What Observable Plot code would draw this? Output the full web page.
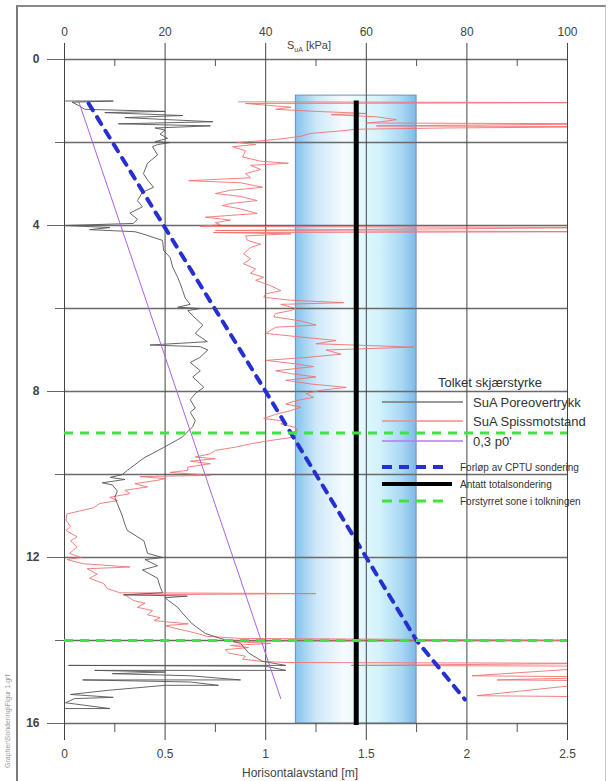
<!DOCTYPE html>
<html><head><meta charset="utf-8">
<script src="https://cdn.jsdelivr.net/npm/d3@7"></script>
<script src="https://cdn.jsdelivr.net/npm/@observablehq/plot@0.6"></script>
<style>
html,body{margin:0;padding:0;background:#fff;}
#wrap{position:relative;width:613px;height:781px;overflow:hidden;font-family:"Liberation Sans",Arial,sans-serif;}
#frame{position:absolute;left:16px;top:5px;width:587px;height:800px;border-left:2px solid #7a7a7a;border-top:2px solid #8a8a8a;border-right:1px solid #c8c8c8;}
#chart{position:absolute;left:0;top:0;}
#note{position:absolute;left:4px;top:668px;height:100px;writing-mode:vertical-rl;transform:rotate(180deg);font-size:7px;line-height:8px;color:#999;white-space:nowrap;}
</style></head>
<body><div id="wrap"><div id="frame"></div><div id="chart"></div><div id="note">Grapher\Sondering\Figur 1.grf</div></div>
<script>
// ---- axis definitions ----
const kpaTicks = [0, 20, 40, 60, 80, 100];
const kpaMinor = [10, 30, 50, 70, 90];
const depthLabels = [0, 4, 8, 12, 16];
const depthMinor = [2, 6, 10, 14];
const depthGrid = [0, 2, 4, 6, 8, 10, 12, 14, 16];
const kpaPerMeter = 40; // 2.5 m <-> 100 kPa on the shared horizontal axis

// ---- SuA Poreovertrykk: [depth m, kPa] ----
const grayDepth = [1.0,1.0,1.03,1.12,1.2,1.25,1.28,1.35,1.4,1.5,1.55,1.6,1.65,1.7,1.8,1.9,1.98,2.0,2.05,2.1,2.3,2.5,2.75,2.9,3.08,3.2,3.4,3.55,3.7,3.85,3.95,4.0,4.05,4.1,4.15,4.2,4.36,4.6,4.77,5.0,5.25,5.4,5.57,5.75,5.9,5.97,6.0,6.05,6.2,6.4,6.6,6.8,6.88,6.92,7.0,7.18,7.3,7.5,7.65,7.9,8.05,8.2,8.4,8.5,8.7,8.85,9.1,9.35,9.6,9.9,10.0,10.07,10.12,10.2,10.25,10.4,10.55,10.7,11.0,11.2,11.35,11.6,11.9,12.0,12.05,12.2,12.3,12.5,12.7,12.85,12.9,12.93,12.97,13.04,13.2,13.35,13.6,13.83,13.95,14.07,14.3,14.5,14.6,14.6,14.62,14.72,14.72,14.76,14.8,14.85,14.95,14.95,15.0,15.08,15.08,15.2,15.3,15.37,15.4,15.5,15.64,15.64];
const grayKpa   = [0.2,9.7,1.5,3.0,4.0,20,8,23.5,12,29.5,10.7,29,18,20,19,20.5,18,21,18.5,17.5,18.5,16.5,15.7,16.5,17.7,15.5,14.5,15.5,13,14.5,13.7,0.3,9,5,14,15.5,19.5,19.7,21,21.5,22.5,23,23.5,24,25,22.5,27,24.5,25.7,27.5,26,28.4,17,27,28.5,26.9,25,27,25.5,27.7,26,25,26,25,26,25.5,23.4,19.7,15.8,12.5,11.5,9.1,12,7.5,9.5,10.5,10,10.5,11.5,12,12.5,15.8,16.5,19.5,16,18.5,15.5,18.5,19,19.5,11.7,24.4,20,20.7,22.5,23.5,25.4,28,31,35,36.6,39.3,44,0.8,40,44,6,20,9.5,25,35,3.6,25,30.6,20,8.7,1.2,9.7,2,0.2,9,0.2];

// ---- SuA Spissmotstand: [depth m, kPa] (values past 100 run off the frame) ----
const redDepth = [1.02,1.04,1.06,1.1,1.15,1.2,1.25,1.3,1.33,1.38,1.45,1.5,1.53,1.55,1.6,1.62,1.65,1.68,1.72,1.78,1.85,1.9,1.95,2.0,2.05,2.1,2.2,2.35,2.45,2.5,2.55,2.65,2.75,2.85,2.92,2.97,3.08,3.15,3.23,3.3,3.4,3.47,3.52,3.6,3.71,3.8,3.87,3.93,3.98,4.02,4.05,4.12,4.15,4.17,4.2,4.25,4.36,4.45,4.53,4.68,4.8,4.92,5.05,5.15,5.25,5.32,5.45,5.57,5.65,5.73,5.8,5.86,5.9,6.0,6.05,6.12,6.2,6.3,6.4,6.45,6.6,6.7,6.77,6.85,6.93,7.0,7.1,7.18,7.25,7.32,7.4,7.5,7.57,7.65,7.73,7.82,7.9,7.97,8.05,8.14,8.22,8.3,8.38,8.46,8.55,8.65,8.72,8.78,8.87,8.94,9.0,9.1,9.18,9.26,9.34,9.42,9.5,9.58,9.62,9.68,9.74,9.82,9.9,9.95,10.02,10.05,10.1,10.14,10.22,10.3,10.38,10.46,10.55,10.63,10.7,10.8,10.88,10.95,11.1,11.25,11.35,11.5,11.6,11.75,11.9,12.0,12.05,12.15,12.23,12.27,12.4,12.5,12.63,12.75,12.85,12.87,12.9,13.04,13.1,13.2,13.28,13.38,13.45,13.52,13.6,13.64,13.7,13.76,13.82,13.9,13.95,14.0,14.02,14.07,14.12,14.17,14.22,14.3,14.38,14.45,14.5,14.53,14.55,14.6,14.62,14.85,14.88,14.95,14.97,15.33,15.36];
const redKpa   = [34.6,110,36,40,45,42,50,60,53,62,66,63,60,110,62,110,76,58,55,49,47,44,40,34.4,38,33.4,36,35.4,39,44.5,37,39,36,37,24.7,35,39.4,33,30,35,38.3,33,31.4,35,38.3,28,33,30,31,27,110,30,110,29.6,45,36,36.4,39,37,35.6,37,35.6,38,37,39.6,38,41,43,40,39.6,45,55.5,43,46,45,42,41.6,47,50,42,40,48,54,50,69.5,52,55,48,40,45,49.5,42,45,50,44,49,56,51,48,49.5,46,44,47,45,42,39.6,44,43,46,46.3,45,45.6,41,37,34,30,29,26,30,25,29,24.5,24.5,21,29,15,20,18.5,14,16.5,12,13,9,10.5,7,5.8,3,0.5,0.3,1.2,0.3,2.5,1.2,2.5,1,3.3,0.5,3.7,13,4.5,6.5,5,7.8,8.5,11,50,12,13.8,16,14.5,17.5,16.5,19,17.8,24.6,20,21.8,24,26,28.4,35,110,32,41,33,36.6,32,32.6,36,35.4,39,44,110,57,110,81,110,86,110,82,110];

// ---- 0,3 p0' : [depth m, kPa] ----
const p0Depth = [1.0, 15.4];
const p0Kpa = [2.8, 43];

// ---- CPTU sounding path: [depth m, horizontal distance m] ----
const cptuDepth = [1.06, 8.0, 11.6, 14.0, 15.42];
const cptuDist  = [0.12, 1.0, 1.45, 1.75, 1.99];

// ---- assumed total sounding & interpreted zone (m) ----
const totalSonderingDist = [1.45];
const totalSonderingDepth = [1.0, 16.05];
const zoneDist = [1.15, 1.75];
const zoneDepth = [0.87, 16];
const disturbedDepths = [9.0, 14.0];

const gray = grayDepth.map((d, i) => ({d, v: grayKpa[i]}));
const red = redDepth.map((d, i) => ({d, v: redKpa[i]}));
const p0 = p0Depth.map((d, i) => ({d, v: p0Kpa[i]}));
const cptu = cptuDepth.map((d, i) => ({d, m: cptuDist[i]}));
const zone = [{x1: zoneDist[0], x2: zoneDist[1], y1: zoneDepth[0], y2: zoneDepth[1]}];

const font = "Liberation Sans, Arial, sans-serif";

const plot = Plot.plot({
  width: 613, height: 781,
  marginTop: 59, marginBottom: 58, marginLeft: 64, marginRight: 46,
  style: {fontFamily: font, fontSize: "12px", color: "#333", background: "transparent", overflow: "visible"},
  x: {domain: [0, 100]},
  y: {domain: [0, 16], reverse: true},
  marks: [
    Plot.rect(zone, {x1: d => d.x1 * kpaPerMeter, x2: d => d.x2 * kpaPerMeter, y1: "y1", y2: "y2", fill: "url(#cyl)", stroke: "#6f8fae", strokeWidth: 1}),
    Plot.ruleY(depthGrid, {x1: 0, x2: 100, stroke: "#6a6a6a", strokeWidth: 1.3}),
    Plot.ruleX(kpaTicks, {y1: 0, y2: 16, stroke: "#444", strokeWidth: 1}),
    Plot.ruleX(kpaMinor, {y1: 0, y2: 0.17, stroke: "#555"}),
    Plot.ruleX(kpaMinor, {y1: 16, y2: 16.22, stroke: "#555"}),
    Plot.axisX(kpaTicks, {anchor: "top", tickSize: 17, tickPadding: 7, stroke: "#444", fill: "#444", fontSize: 12, label: null}),
    Plot.axisX(kpaTicks, {anchor: "bottom", tickSize: 17, tickPadding: 9, stroke: "#444", fill: "#444", fontSize: 12, label: null, tickFormat: d => String(d / kpaPerMeter)}),
    Plot.axisY(depthLabels, {anchor: "left", tickSize: 17, tickPadding: 8, stroke: "#666", fill: "#444", fontSize: 12, fontWeight: "bold", label: null}),
    Plot.axisY(depthMinor, {anchor: "left", tickSize: 9, stroke: "#666", tickFormat: () => "", label: null}),
    Plot.line(red, {x: "v", y: "d", stroke: "#f07272", strokeWidth: 0.9, clip: true}),
    Plot.line(gray, {x: "v", y: "d", stroke: "#555", strokeWidth: 0.9, clip: true}),
    Plot.line(p0, {x: "v", y: "d", stroke: "#b060e0", strokeWidth: 1}),
    Plot.line(cptu, {x: d => d.m * kpaPerMeter, y: "d", stroke: "#2630d0", strokeWidth: 4, strokeDasharray: "8,8"}),
    Plot.ruleX(totalSonderingDist, {x: d => d * kpaPerMeter, y1: totalSonderingDepth[0], y2: totalSonderingDepth[1], stroke: "#000", strokeWidth: 5}),
    Plot.ruleY(disturbedDepths, {x1: 0, x2: 100, stroke: "#3ce63c", strokeWidth: 3, strokeDasharray: "9,7"})
  ]
});

const svg = d3.select(plot);
const grad = svg.insert("defs", ":first-child").append("linearGradient").attr("id", "cyl").attr("x1", "0").attr("x2", "1").attr("y1", "0").attr("y2", "0");
[[0, "#84c2ee"], [0.18, "#cfe9f9"], [0.4, "#f5fbfe"], [0.55, "#e4f8fd"], [0.7, "#d2f2fb"], [0.88, "#a8d8f3"], [1, "#7db9e8"]]
  .forEach(([o, c]) => grad.append("stop").attr("offset", o).attr("stop-color", c));

// axis titles
const t1 = svg.append("text").attr("x", 309).attr("y", 49).attr("text-anchor", "middle").attr("font-size", 11).attr("fill", "#444").attr("font-family", font);
t1.append("tspan").text("S");
t1.append("tspan").attr("font-size", 7).attr("dy", 3).text("uA");
t1.append("tspan").attr("dy", -3).text(" [kPa]");
svg.append("text").attr("x", 300).attr("y", 777).attr("text-anchor", "middle").attr("font-size", 12).attr("fill", "#444").attr("font-family", font).text("Horisontalavstand [m]");

// legend
const lg = svg.append("g").attr("font-family", font).attr("fill", "#333").attr("text-anchor", "start");
lg.append("text").attr("x", 490).attr("y", 387).attr("text-anchor", "middle").attr("font-size", 13).text("Tolket skjærstyrke");
const big = [["#777", "SuA Poreovertrykk", 402], ["#f38a8a", "SuA Spissmotstand", 421], ["#b47ee6", "0,3 p0'", 441]];
big.forEach(([c, t, y]) => {
  lg.append("line").attr("x1", 382).attr("x2", 463).attr("y1", y).attr("y2", y).attr("stroke", c).attr("stroke-width", 1.5);
  lg.append("text").attr("x", 473).attr("y", y + 4.5).attr("font-size", 13).text(t);
});
lg.append("line").attr("x1", 382).attr("x2", 446).attr("y1", 467).attr("y2", 467).attr("stroke", "#2630d0").attr("stroke-width", 4).attr("stroke-dasharray", "10,7");
lg.append("text").attr("x", 460).attr("y", 470.5).attr("font-size", 10).text("Forløp av CPTU sondering");
lg.append("line").attr("x1", 382).attr("x2", 452).attr("y1", 484).attr("y2", 484).attr("stroke", "#000").attr("stroke-width", 4);
lg.append("text").attr("x", 460).attr("y", 487.5).attr("font-size", 10).text("Antatt totalsondering");
lg.append("line").attr("x1", 382).attr("x2", 446).attr("y1", 501).attr("y2", 501).attr("stroke", "#3ce63c").attr("stroke-width", 3).attr("stroke-dasharray", "10,7");
lg.append("text").attr("x", 460).attr("y", 504.5).attr("font-size", 10).text("Forstyrret sone i tolkningen");

document.getElementById("chart").appendChild(plot);
</script>
</body></html>
